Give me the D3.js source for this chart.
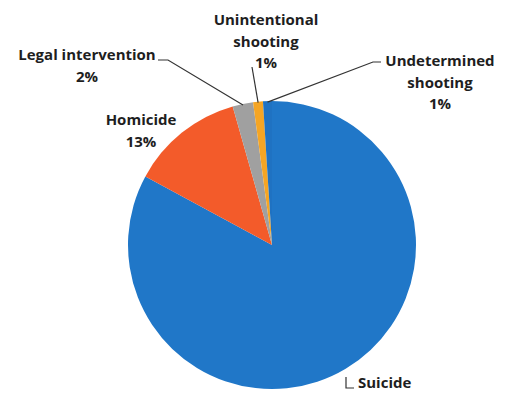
<!DOCTYPE html>
<html><head><meta charset="utf-8">
<script src="https://cdn.jsdelivr.net/npm/d3@7"></script>
<style>
html,body{margin:0;padding:0;background:#fff;}
text{font-family:"Open Sans",Lato,sans-serif;font-weight:bold;fill:#1e1e1e;}
</style></head>
<body><svg id="c" width="505" height="395"></svg>
<script>
const categories = ["Suicide", "Homicide", "Legal intervention", "Unintentional shooting", "Undetermined shooting"];
const values = [82.9, 12.7, 2.3, 1.1, 1.0];
const percentLabels = ["", "13%", "2%", "1%", "1%"];
const colors = ["#2077c8", "#f35b2a", "#a0a0a0", "#f5a524", "#1f72c2"];

const W = 505, H = 395, cx = 272, cy = 245, R = 144;
const svg = d3.select("#c");
const g = svg.append("g").attr("transform", `translate(${cx},${cy})`);

const pie = d3.pie().sort(null).value(d => d)(values);
const arc = d3.arc().innerRadius(0).outerRadius(R);
g.selectAll("path").data(pie).enter().append("path")
  .attr("d", arc).attr("fill", (d, i) => colors[i]);

// label layout (positions in page coords)
const layout = [
  {lines: ["Suicide"], x: 358, y: 388, anchor: "start"},
  {lines: ["Homicide", "13%"], x: 141, y: 125, anchor: "middle"},
  {lines: ["Legal intervention", "2%"], x: 87, y: 60, anchor: "middle"},
  {lines: ["Unintentional", "shooting", "1%"], x: 266, y: 25, anchor: "middle"},
  {lines: ["Undetermined", "shooting", "1%"], x: 440, y: 66, anchor: "middle"}
];
const lineH = 21.5;
layout.forEach((L, i) => {
  const t = svg.append("text").attr("text-anchor", L.anchor).attr("font-size", 15);
  const words = i === 0 ? [categories[0]] : L.lines.slice(0, -1).concat([percentLabels[i]]);
  words.forEach((w, k) => {
    t.append("tspan").attr("x", L.x).attr("y", L.y + k * lineH).text(w);
  });
});

// leader lines
const edge = d => {
  const a = (d.startAngle + d.endAngle) / 2;
  return [cx + Math.sin(a) * (R - 1), cy - Math.cos(a) * (R - 1)];
};
const leader = d3.line();
const lines = [
  [[158, 60], [168, 60], edge(pie[2])],
  [[252, 67], edge(pie[3])],
  [[381, 62], [373, 62], edge(pie[4])],
  [[346, 377], [346, 388], [354, 388]]
];
lines.forEach(pts => {
  svg.append("path").attr("d", leader(pts)).attr("fill", "none")
    .attr("stroke", "#333").attr("stroke-width", 1.2);
});
</script></body></html>
